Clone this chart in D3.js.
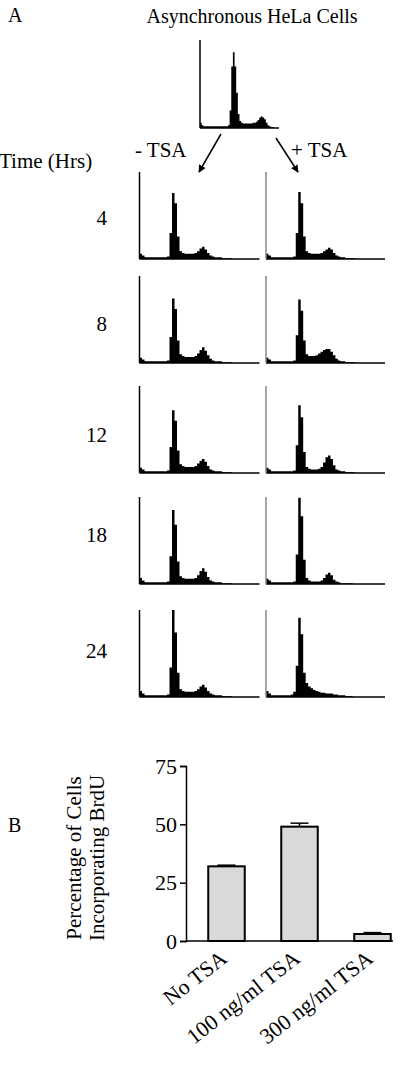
<!DOCTYPE html>
<html><head><meta charset="utf-8">
<script src="https://cdn.jsdelivr.net/npm/d3@7"></script>
<style>body{margin:0;background:#fff}svg{display:block;font-family:"Liberation Serif","Times New Roman",serif}</style>
</head><body>
<svg id="c" width="414" height="1068"></svg>
<script>
// DNA-content histograms, 48 bins each, heights in % of panel height
const asyncHist=[6,3,2,2,2,2,2,2,2,2,2,2,2,2,2,2,2,3,20,70,86,70,40,16,8,6,5,5,5,5,5,5,6,6,7,9,12,13,12,10,6,3,2,1,1,0,0,0];
const timeLabels=["4","8","12","18","24"];
const minusTSA=[
 [6,4,2,2,2,2,2,2,2,2,2,3,30,76,64,26,9,7,6,6,6,6,7,9,12,14,11,7,4,3,2,2,2,1,1,1,1,0,0,0,0,0,0,0,0,0,0,0],
 [6,4,2,2,2,2,2,2,2,2,2,3,30,74,62,26,10,8,7,7,7,7,8,11,15,18,14,9,5,3,2,2,2,1,1,1,1,0,0,0,0,0,0,0,0,0,0,0],
 [6,4,2,2,2,2,2,2,2,2,2,3,30,72,60,26,10,8,7,7,7,7,8,11,14,16,13,8,4,3,2,2,2,1,1,1,1,0,0,0,0,0,0,0,0,0,0,0],
 [7,4,2,2,2,2,2,2,2,2,2,3,32,85,68,26,9,7,6,6,6,6,7,10,15,18,14,8,4,3,2,2,2,1,1,1,1,0,0,0,0,0,0,0,0,0,0,0],
 [7,4,2,2,2,2,2,2,2,2,2,3,34,100,74,28,9,7,6,6,6,6,7,9,12,14,11,7,4,3,2,2,2,1,1,1,1,0,0,0,0,0,0,0,0,0,0,0]
];
const plusTSA=[
 [6,4,2,2,2,2,2,2,2,2,2,3,30,77,64,26,9,7,6,6,6,6,7,9,11,13,11,7,4,3,2,2,1,1,1,1,0,0,0,0,0,0,0,0,0,0,0,0],
 [6,4,2,2,2,2,2,2,2,2,2,3,32,73,60,26,10,8,8,8,9,11,13,15,16,16,13,9,5,3,2,2,1,1,1,1,0,0,0,0,0,0,0,0,0,0,0,0],
 [6,4,2,2,2,2,2,2,2,2,2,3,32,78,64,24,7,5,4,4,4,5,7,12,18,20,16,9,4,3,2,2,1,1,1,1,0,0,0,0,0,0,0,0,0,0,0,0],
 [6,4,2,2,2,2,2,2,2,2,2,3,34,99,78,28,7,4,3,3,3,3,4,7,11,13,10,5,3,2,1,1,1,1,1,0,0,0,0,0,0,0,0,0,0,0,0,0],
 [7,4,2,2,2,2,2,2,2,2,3,6,36,91,72,28,16,12,10,8,7,6,5,5,4,4,4,3,3,2,2,2,1,1,1,0,0,0,0,0,0,0,0,0,0,0,0,0]
];
// Panel B
const categories=["No TSA","100 ng/ml TSA","300 ng/ml TSA"];
const brduValues=[32,49,3];
const brduErrors=[0.5,1.5,0.6];
const yTicks=[0,25,50,75];

const svg=d3.select("#c");

function drawHist(data,x0,y0,w,h,axisCol){
  const x=d3.scaleLinear().domain([0,data.length]).range([x0,x0+w]);
  const y=d3.scaleLinear().domain([0,100]).range([y0+h,y0]);
  const area=d3.area().curve(d3.curveStepAfter).x((d,i)=>x(i)).y0(y(0)).y1(d=>y(d));
  svg.append("path").datum(data.concat([0])).attr("d",area).attr("fill","#000");
  svg.append("line").attr("x1",x0).attr("x2",x0+w).attr("y1",y0+h).attr("y2",y0+h).attr("stroke","#000").attr("stroke-width",1.5);
  svg.append("line").attr("x1",x0).attr("x2",x0).attr("y1",y0).attr("y2",y0+h).attr("stroke",axisCol).attr("stroke-width",1.5);
}

// Panel A
svg.append("text").attr("x",8).attr("y",22).attr("font-size",20).text("A");
svg.append("text").attr("x",252).attr("y",23).attr("font-size",20).attr("text-anchor","middle").text("Asynchronous HeLa Cells");
drawHist(asyncHist,200,40,79,88,"#000");

svg.append("text").attr("x",135).attr("y",157).attr("font-size",21).text("- TSA");
svg.append("text").attr("x",291).attr("y",157).attr("font-size",21).text("+ TSA");
svg.append("text").attr("x",-1).attr("y",168).attr("font-size",21).text("Time (Hrs)");

svg.append("defs").append("marker").attr("id","ah").attr("viewBox","0 0 10 10").attr("refX",9).attr("refY",5)
  .attr("markerWidth",5).attr("markerHeight",5).attr("orient","auto")
  .append("path").attr("d","M0,0L10,5L0,10z").attr("fill","#000");
svg.append("line").attr("x1",221).attr("y1",134).attr("x2",199).attr("y2",172).attr("stroke","#000").attr("stroke-width",1.5).attr("marker-end","url(#ah)");
svg.append("line").attr("x1",276).attr("y1",138).attr("x2",298).attr("y2",172).attr("stroke","#000").attr("stroke-width",1.5).attr("marker-end","url(#ah)");

const rowTops=[172,276,386,497,610];
const labelY=[225,331,442,542,658];
timeLabels.forEach((t,i)=>{
  svg.append("text").attr("x",107).attr("y",labelY[i]).attr("font-size",21).attr("text-anchor","end").text(t);
  drawHist(minusTSA[i],139.5,rowTops[i],120,87,"#000");
  drawHist(plusTSA[i],266,rowTops[i],119,87,"#888");
});

// Panel B
svg.append("text").attr("x",8).attr("y",832).attr("font-size",20).text("B");
const y=d3.scaleLinear().domain([0,75]).range([941,766]);
const x=d3.scaleBand().domain(categories).range([190,409]).paddingInner(0.5).paddingOuter(0.25);
const g=svg.append("g");
g.append("g").attr("transform","translate(186,0)")
  .call(d3.axisLeft(y).tickValues(yTicks).tickSize(6).tickPadding(3))
  .call(a=>{a.select(".domain").attr("stroke-width",1.5);a.selectAll("line").attr("stroke-width",1.5);
    a.selectAll("text").attr("font-size",22).attr("font-family","Liberation Serif");});
g.append("line").attr("x1",186).attr("x2",393).attr("y1",y(0)).attr("y2",y(0)).attr("stroke","#000").attr("stroke-width",1.5);
categories.forEach((c,i)=>{
  const bx=x(c),bw=x.bandwidth(),cx=bx+bw/2;
  g.append("line").attr("x1",cx).attr("x2",cx).attr("y1",y(brduValues[i]+brduErrors[i])).attr("y2",y(brduValues[i]-brduErrors[i])).attr("stroke","#000").attr("stroke-width",1.5);
  [1,-1].forEach(s=>g.append("line").attr("x1",cx-9).attr("x2",cx+9).attr("y1",y(brduValues[i]+s*brduErrors[i])).attr("y2",y(brduValues[i]+s*brduErrors[i])).attr("stroke","#000").attr("stroke-width",1.5));
  g.append("rect").attr("x",bx).attr("y",y(brduValues[i])).attr("width",bw).attr("height",y(0)-y(brduValues[i]))
    .attr("fill","#d9d9d9").attr("stroke","#000").attr("stroke-width",2);
  g.append("text").attr("transform",`translate(${cx+2},${y(0)+20}) rotate(-38)`).attr("text-anchor","end")
    .attr("font-size",22).text(c);
});
const yl=svg.append("text").attr("transform","translate(86,858) rotate(-90)").attr("text-anchor","middle").attr("font-size",21);
yl.append("tspan").attr("x",0).attr("dy","-0.25em").text("Percentage of Cells");
yl.append("tspan").attr("x",0).attr("dy","1.1em").text("Incorporating BrdU");
</script>
</body></html>
